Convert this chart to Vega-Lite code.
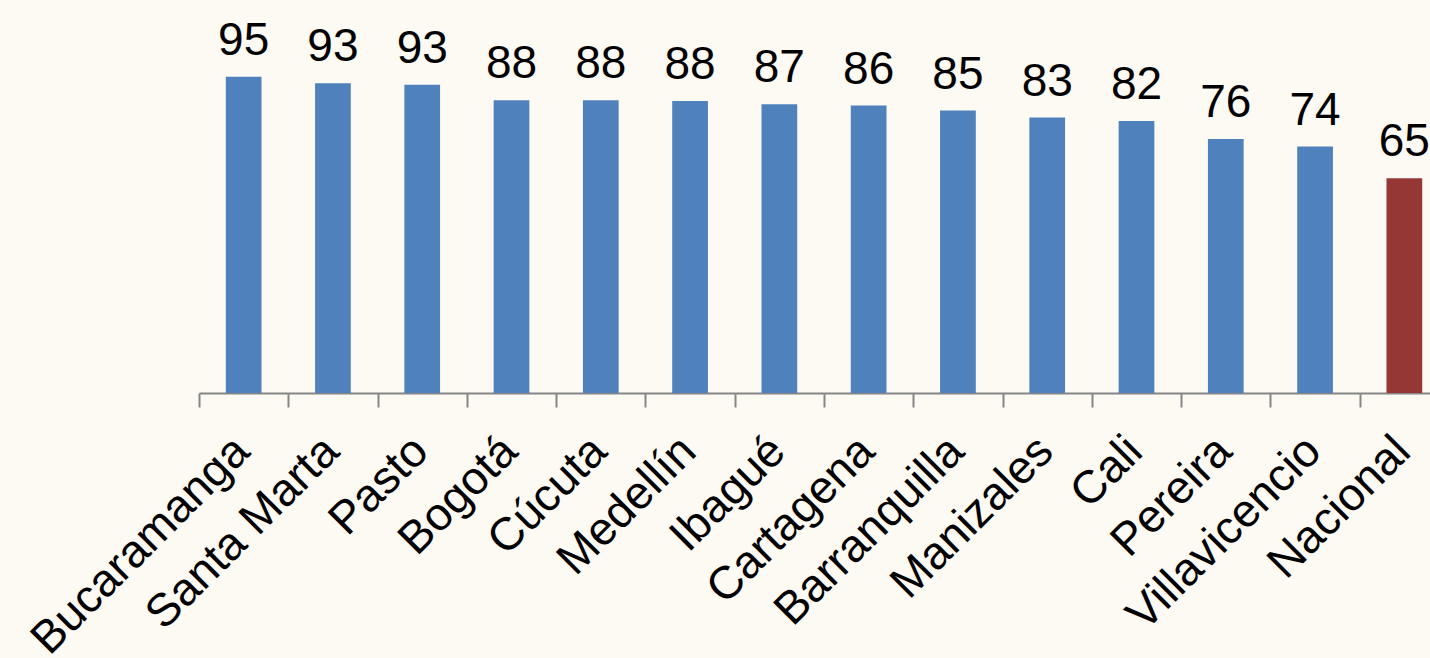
{
  "$schema": "https://vega.github.io/schema/vega-lite/v6.json",
  "width": 1250,
  "height": 333,
  "autosize": {"type": "none"},
  "padding": {"left": 199, "top": 60, "right": 0, "bottom": 265},
  "background": "#FDF9F3",
  "config": {"view": {"stroke": null}, "font": "Liberation Sans"},
  "data": {
    "values": [
      {"ciudad": "Bucaramanga", "valor": 95, "tipo": "ciudad"},
      {"ciudad": "Santa Marta", "valor": 93, "tipo": "ciudad"},
      {"ciudad": "Pasto", "valor": 92.6, "tipo": "ciudad"},
      {"ciudad": "Bogotá", "valor": 87.9, "tipo": "ciudad"},
      {"ciudad": "Cúcuta", "valor": 87.9, "tipo": "ciudad"},
      {"ciudad": "Medellín", "valor": 87.7, "tipo": "ciudad"},
      {"ciudad": "Ibagué", "valor": 86.7, "tipo": "ciudad"},
      {"ciudad": "Cartagena", "valor": 86.3, "tipo": "ciudad"},
      {"ciudad": "Barranquilla", "valor": 84.8, "tipo": "ciudad"},
      {"ciudad": "Manizales", "valor": 82.7, "tipo": "ciudad"},
      {"ciudad": "Cali", "valor": 81.7, "tipo": "ciudad"},
      {"ciudad": "Pereira", "valor": 76.3, "tipo": "ciudad"},
      {"ciudad": "Villavicencio", "valor": 74, "tipo": "ciudad"},
      {"ciudad": "Nacional", "valor": 64.5, "tipo": "nacional"}
    ]
  },
  "encoding": {
    "x": {
      "field": "ciudad",
      "type": "nominal",
      "sort": null,
      "scale": {"paddingInner": 0.6, "paddingOuter": 0.3},
      "axis": {
        "title": null,
        "labelAngle": -45,
        "labelFontSize": 46,
        "labelColor": "#000000",
        "labelFont": "Liberation Sans",
        "labelPadding": 21,
        "tickOffset": -44.64,
        "labelOffset": 27,
        "tickSize": 14,
        "tickColor": "#868686",
        "tickWidth": 2,
        "domainColor": "#868686",
        "domainWidth": 2,
        "labelOverlap": false,
        "labelLimit": 0
      }
    },
    "y": {
      "field": "valor",
      "type": "quantitative",
      "scale": {"domain": [0, 100]},
      "axis": null
    }
  },
  "layer": [
    {
      "mark": {"type": "bar"},
      "encoding": {
        "color": {
          "field": "tipo",
          "type": "nominal",
          "scale": {"domain": ["ciudad", "nacional"], "range": ["#4F81BD", "#953735"]},
          "legend": null
        }
      }
    },
    {
      "mark": {"type": "text", "dy": -22, "baseline": "alphabetic", "fontSize": 46, "color": "#000000", "font": "Liberation Sans"},
      "encoding": {
        "text": {"field": "valor", "type": "quantitative", "format": ".0f"}
      }
    }
  ]
}
